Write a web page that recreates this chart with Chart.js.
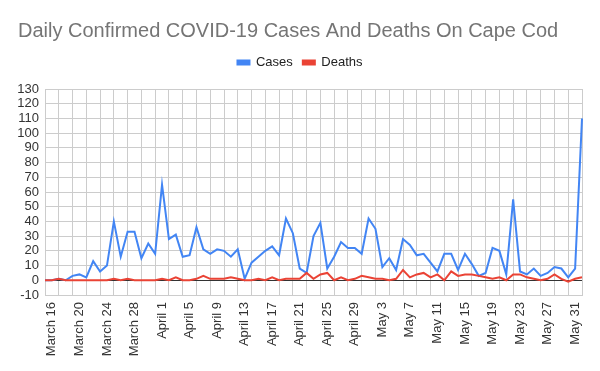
<!DOCTYPE html>
<html>
<head>
<meta charset="utf-8">
<script src="https://cdn.jsdelivr.net/npm/chart.js@4/dist/chart.umd.min.js"></script>
<style>
  html, body { margin: 0; padding: 0; background: #fff; }
  #wrap { width: 600px; height: 371px; }
</style>
</head>
<body>
<div id="wrap"><canvas id="chart"></canvas></div>
<script>
const days = [
  'March 15', 'March 16', 'March 17', 'March 18', 'March 19', 'March 20', 'March 21', 'March 22',
  'March 23', 'March 24', 'March 25', 'March 26', 'March 27', 'March 28', 'March 29', 'March 30', 'March 31',
  'April 1', 'April 2', 'April 3', 'April 4', 'April 5', 'April 6', 'April 7', 'April 8', 'April 9', 'April 10',
  'April 11', 'April 12', 'April 13', 'April 14', 'April 15', 'April 16', 'April 17', 'April 18', 'April 19', 'April 20',
  'April 21', 'April 22', 'April 23', 'April 24', 'April 25', 'April 26', 'April 27', 'April 28', 'April 29', 'April 30',
  'May 1', 'May 2', 'May 3', 'May 4', 'May 5', 'May 6', 'May 7', 'May 8', 'May 9', 'May 10',
  'May 11', 'May 12', 'May 13', 'May 14', 'May 15', 'May 16', 'May 17', 'May 18', 'May 19', 'May 20',
  'May 21', 'May 22', 'May 23', 'May 24', 'May 25', 'May 26', 'May 27', 'May 28', 'May 29', 'May 30', 'May 31',
  'June 1'
];

const cases = [
  0, 0, 1, 0, 3, 4, 2, 13, 6, 10, 40, 16, 33, 33, 15, 25, 18, 65, 28, 31, 16, 17, 36,
  21, 18, 21, 20, 16, 21, 1, 12, 16, 20, 23, 17, 42, 32, 8, 5, 30, 39, 8, 16, 26, 22, 22, 18, 42, 35, 9, 15,
  7, 28, 24, 17, 18, 12, 6, 18, 18, 7, 18, 11, 3, 5, 22, 20, 4, 55, 6, 4, 8, 3, 5, 9, 8, 2, 8, 110
];

const deaths = [
  0, 0, 1, 0, 0, 0, 0, 0, 0, 0, 1, 0, 1, 0, 0, 0, 0, 1, 0, 2, 0, 0, 1,
  3, 1, 1, 1, 2, 1, 0, 0, 1, 0, 2, 0, 1, 1, 1, 5, 1, 4, 5, 0, 2, 0, 1, 3, 2, 1, 1, 0,
  1, 7, 2, 4, 5, 2, 4, 0, 6, 3, 4, 4, 3, 2, 1, 2, 0, 4, 4, 2, 1, 0, 1, 4, 1, -1, 1, 2
];

const yTicks = { min: -10, max: 130, step: 10 };

const fontFamily = "Arial, 'Liberation Sans', sans-serif";

// push the plot down a bit below the legend
const legendGap = {
  id: 'legendGap',
  beforeInit(chart) {
    const fit = chart.legend.fit;
    chart.legend.fit = function () {
      fit.bind(chart.legend)();
      this.height += 10;
    };
  }
};

new Chart(document.getElementById('chart'), {
  type: 'line',
  data: {
    labels: days,
    datasets: [
      {
        label: 'Cases',
        data: cases,
        borderColor: '#4285f4',
        backgroundColor: '#4285f4',
        borderWidth: 2,
        pointRadius: 0,
        tension: 0,
        order: 1
      },
      {
        label: 'Deaths',
        data: deaths,
        borderColor: '#ea4335',
        backgroundColor: '#ea4335',
        borderWidth: 2,
        pointRadius: 0,
        tension: 0,
        order: 0
      }
    ]
  },
  options: {
    responsive: true,
    maintainAspectRatio: false,
    animation: false,
    layout: { padding: { left: 18, right: 18, top: 0, bottom: 0 } },
    plugins: {
      title: {
        display: true,
        text: 'Daily Confirmed COVID-19 Cases And Deaths On Cape Cod',
        align: 'start',
        color: '#757575',
        font: { family: fontFamily, size: 20, weight: 'normal' },
        padding: { top: 19, bottom: 3 }
      },
      legend: {
        position: 'top',
        labels: {
          boxWidth: 12,
          boxHeight: 4,
          padding: 10,
          color: '#222',
          font: { family: fontFamily, size: 13 },
          sort: (a, b) => a.datasetIndex - b.datasetIndex
        }
      },
      tooltip: { enabled: false }
    },
    scales: {
      x: {
        afterFit: s => {
          s.height = 76;
          s.paddingLeft = 0;
          s.paddingRight = 0;
        },
        grid: {
          drawTicks: false,
          color: ctx => (ctx.index % 2 === 0 ? '#cccccc' : 'rgba(0,0,0,0)')
        },
        border: { color: '#cccccc' },
        ticks: {
          autoSkip: false,
          maxRotation: 90,
          minRotation: 90,
          padding: 7,
          color: '#333',
          font: { family: fontFamily, size: 13 },
          callback: function (val, i) {
            return i % 4 === 1 ? this.getLabelForValue(val) : '';
          }
        }
      },
      y: {
        min: yTicks.min,
        max: yTicks.max,
        afterFit: s => { s.width = 27; },
        grid: {
          drawTicks: false,
          color: ctx => (ctx.tick && ctx.tick.value === 0 ? '#333333' : '#cccccc')
        },
        border: { color: '#cccccc' },
        ticks: {
          stepSize: yTicks.step,
          autoSkip: false,
          padding: 6,
          color: '#333',
          font: { family: fontFamily, size: 13 }
        }
      }
    }
  },
  plugins: [legendGap]
});
</script>
</body>
</html>
